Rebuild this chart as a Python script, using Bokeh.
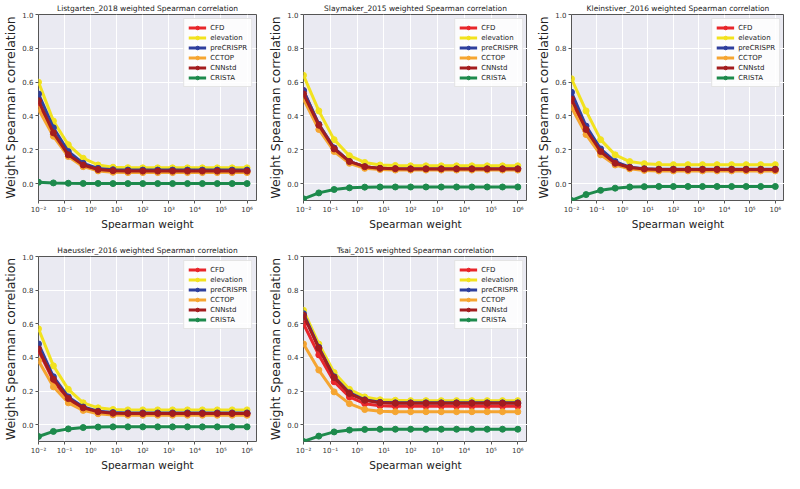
from bokeh.plotting import figure
from bokeh.layouts import column, row
from bokeh.models import Range1d, FixedTicker, CustomJSTickFormatter, PrintfTickFormatter
from bokeh.embed import file_html
from bokeh.resources import INLINE

# Spearman weights (x values, 15 points from 1e-2 to 1e6)
weights = [0.01, 0.0373, 0.139, 0.518, 1.93, 7.20, 26.8, 100, 373, 1389,
           5179, 19307, 71969, 268270, 1000000]
x_ticks = [0.01, 0.1, 1, 10, 100, 1000, 10000, 100000, 1000000]
x_tick_labels = ["10⁻²", "10⁻¹", "10⁰", "10¹", "10²", "10³", "10⁴", "10⁵", "10⁶"]
y_ticks = [0.0, 0.2, 0.4, 0.6, 0.8, 1.0]

methods = ["CFD", "elevation", "preCRISPR", "CCTOP", "CNNstd", "CRISTA"]
colors = ["#e8262b", "#f2e21e", "#2e3f9e", "#f5a531", "#a31c1e", "#1d8a4c"]

titles = ["Listgarten_2018 weighted Spearman correlation",
          "Slaymaker_2015 weighted Spearman correlation",
          "Kleinstiver_2016 weighted Spearman correlation",
          "Haeussler_2016 weighted Spearman correlation",
          "Tsai_2015 weighted Spearman correlation"]

listgarten_cfd = [0.47, 0.29, 0.17, 0.105, 0.08, 0.072, 0.07, 0.07, 0.07, 0.07, 0.07, 0.07, 0.07, 0.07, 0.07]
listgarten_elevation = [0.60, 0.37, 0.23, 0.15, 0.11, 0.097, 0.094, 0.093, 0.093, 0.093, 0.093, 0.093, 0.093, 0.093, 0.093]
listgarten_precrispr = [0.53, 0.33, 0.19, 0.12, 0.09, 0.082, 0.08, 0.08, 0.08, 0.08, 0.08, 0.08, 0.08, 0.08, 0.08]
listgarten_cctop = [0.44, 0.28, 0.16, 0.10, 0.075, 0.067, 0.065, 0.065, 0.065, 0.065, 0.065, 0.065, 0.065, 0.065, 0.065]
listgarten_cnnstd = [0.49, 0.30, 0.17, 0.11, 0.083, 0.076, 0.074, 0.074, 0.074, 0.074, 0.074, 0.074, 0.074, 0.074, 0.074]
listgarten_crista = [0.008, 0.004, 0.002, 0.001, 0.001, 0.0, 0.0, 0.0, 0.0, 0.0, 0.0, 0.0, 0.0, 0.0, 0.0]

slaymaker_cfd = [0.55, 0.35, 0.21, 0.13, 0.10, 0.09, 0.088, 0.087, 0.087, 0.087, 0.087, 0.087, 0.087, 0.087, 0.087]
slaymaker_elevation = [0.64, 0.43, 0.26, 0.165, 0.125, 0.11, 0.107, 0.105, 0.105, 0.105, 0.105, 0.105, 0.105, 0.105, 0.105]
slaymaker_precrispr = [0.55, 0.35, 0.21, 0.13, 0.10, 0.09, 0.088, 0.087, 0.087, 0.087, 0.087, 0.087, 0.087, 0.087, 0.087]
slaymaker_cctop = [0.50, 0.32, 0.19, 0.12, 0.09, 0.083, 0.08, 0.08, 0.08, 0.08, 0.08, 0.08, 0.08, 0.08, 0.08]
slaymaker_cnnstd = [0.53, 0.345, 0.205, 0.13, 0.10, 0.09, 0.088, 0.087, 0.087, 0.087, 0.087, 0.087, 0.087, 0.087, 0.087]
slaymaker_crista = [-0.09, -0.055, -0.035, -0.025, -0.021, -0.02, -0.02, -0.02, -0.02, -0.02, -0.02, -0.02, -0.02, -0.02, -0.02]

kleinstiver_cfd = [0.49, 0.31, 0.185, 0.12, 0.092, 0.083, 0.08, 0.08, 0.08, 0.08, 0.08, 0.08, 0.08, 0.08, 0.08]
kleinstiver_elevation = [0.62, 0.43, 0.26, 0.17, 0.13, 0.118, 0.113, 0.112, 0.112, 0.112, 0.112, 0.112, 0.112, 0.112, 0.112]
kleinstiver_precrispr = [0.54, 0.34, 0.205, 0.13, 0.097, 0.088, 0.085, 0.085, 0.085, 0.085, 0.085, 0.085, 0.085, 0.085, 0.085]
kleinstiver_cctop = [0.45, 0.29, 0.17, 0.11, 0.087, 0.078, 0.075, 0.075, 0.075, 0.075, 0.075, 0.075, 0.075, 0.075, 0.075]
kleinstiver_cnnstd = [0.50, 0.32, 0.19, 0.12, 0.095, 0.086, 0.083, 0.083, 0.083, 0.083, 0.083, 0.083, 0.083, 0.083, 0.083]
kleinstiver_crista = [-0.10, -0.065, -0.04, -0.027, -0.02, -0.018, -0.017, -0.017, -0.017, -0.017, -0.017, -0.017, -0.017, -0.017, -0.017]

haeussler_cfd = [0.44, 0.26, 0.15, 0.095, 0.075, 0.066, 0.065, 0.065, 0.065, 0.065, 0.065, 0.065, 0.065, 0.065, 0.065]
haeussler_elevation = [0.57, 0.35, 0.21, 0.13, 0.10, 0.09, 0.088, 0.088, 0.088, 0.088, 0.088, 0.088, 0.088, 0.088, 0.088]
haeussler_precrispr = [0.48, 0.285, 0.165, 0.105, 0.08, 0.072, 0.07, 0.07, 0.07, 0.07, 0.07, 0.07, 0.07, 0.07, 0.07]
haeussler_cctop = [0.38, 0.225, 0.13, 0.085, 0.065, 0.058, 0.056, 0.056, 0.056, 0.056, 0.056, 0.056, 0.056, 0.056, 0.056]
haeussler_cnnstd = [0.45, 0.27, 0.155, 0.10, 0.077, 0.068, 0.066, 0.066, 0.066, 0.066, 0.066, 0.066, 0.066, 0.066, 0.066]
haeussler_crista = [-0.07, -0.04, -0.025, -0.017, -0.014, -0.013, -0.013, -0.013, -0.013, -0.013, -0.013, -0.013, -0.013, -0.013, -0.013]

tsai_cfd = [0.60, 0.415, 0.255, 0.165, 0.125, 0.112, 0.11, 0.11, 0.11, 0.11, 0.11, 0.11, 0.11, 0.11, 0.11]
tsai_elevation = [0.68, 0.48, 0.31, 0.21, 0.165, 0.148, 0.145, 0.143, 0.143, 0.143, 0.143, 0.143, 0.143, 0.143, 0.143]
tsai_precrispr = [0.66, 0.46, 0.285, 0.19, 0.148, 0.133, 0.13, 0.13, 0.13, 0.13, 0.13, 0.13, 0.13, 0.13, 0.13]
tsai_cctop = [0.48, 0.325, 0.195, 0.125, 0.09, 0.08, 0.077, 0.077, 0.077, 0.077, 0.077, 0.077, 0.077, 0.077, 0.077]
tsai_cnnstd = [0.65, 0.455, 0.28, 0.185, 0.145, 0.13, 0.127, 0.127, 0.127, 0.127, 0.127, 0.127, 0.127, 0.127, 0.127]
tsai_crista = [-0.10, -0.068, -0.043, -0.032, -0.028, -0.027, -0.027, -0.027, -0.027, -0.027, -0.027, -0.027, -0.027, -0.027, -0.027]

panels = [
    [listgarten_cfd, listgarten_elevation, listgarten_precrispr, listgarten_cctop, listgarten_cnnstd, listgarten_crista],
    [slaymaker_cfd, slaymaker_elevation, slaymaker_precrispr, slaymaker_cctop, slaymaker_cnnstd, slaymaker_crista],
    [kleinstiver_cfd, kleinstiver_elevation, kleinstiver_precrispr, kleinstiver_cctop, kleinstiver_cnnstd, kleinstiver_crista],
    [haeussler_cfd, haeussler_elevation, haeussler_precrispr, haeussler_cctop, haeussler_cnnstd, haeussler_crista],
    [tsai_cfd, tsai_elevation, tsai_precrispr, tsai_cctop, tsai_cnnstd, tsai_crista],
]

FONT = "DejaVu Sans"
col_w = [265, 262, 257]
border_left = [28, 29, 44]
border_right = [9, 0, 0]
row_h = [232, 241]
border_top = [4, 24]


def make_panel(idx):
    r, c = divmod(idx, 3)
    p = figure(width=col_w[c], height=row_h[r], x_axis_type="log",
               x_range=Range1d(0.01, 2.3e6), y_range=Range1d(-0.1, 1.0),
               output_backend="svg", toolbar_location=None, title=titles[idx])
    p.min_border_left = border_left[c]
    p.min_border_right = border_right[c]
    p.min_border_top = border_top[r]
    p.min_border_bottom = 6
    p.background_fill_color = "#EAEAF2"
    p.border_fill_color = "white"
    p.outline_line_color = "#555555"
    p.outline_line_width = 1
    p.title.text_font = FONT
    p.title.text_font_size = "7.5px"
    p.title.text_font_style = "normal"
    p.title.text_color = "#222222"
    p.title.align = "center"
    p.title.standoff = 3

    p.xaxis.ticker = FixedTicker(ticks=x_ticks)
    p.xaxis.formatter = CustomJSTickFormatter(
        args=dict(xt=x_ticks, xl=x_tick_labels),
        code="""
        for (let i = 0; i < xt.length; i++) {
            if (Math.abs(Math.log10(xt[i]) - Math.log10(tick)) < 1e-6) return xl[i];
        }
        return '';
        """)
    p.yaxis.ticker = FixedTicker(ticks=y_ticks)
    p.yaxis.formatter = PrintfTickFormatter(format="%.1f")
    p.xaxis.axis_label = "Spearman weight"
    p.yaxis.axis_label = "Weight Spearman correlation"
    p.xaxis.axis_label_text_font_size = "10.5px"
    p.yaxis.axis_label_text_font_size = "12.5px"
    for ax in (p.xaxis, p.yaxis):
        ax.axis_label_text_font = FONT
        ax.axis_label_text_font_style = "normal"
        ax.axis_label_text_color = "#222222"
        ax.axis_label_standoff = 1
        ax.major_label_text_font = FONT
        ax.major_label_text_font_size = "7px"
        ax.major_label_text_color = "#333333"
        ax.major_label_standoff = 2
        ax.axis_line_color = None
        ax.major_tick_line_color = "#555555"
        ax.major_tick_out = 3
        ax.major_tick_in = 0
        ax.minor_tick_line_color = None
    p.xgrid.grid_line_color = "white"
    p.ygrid.grid_line_color = "white"
    p.xgrid.grid_line_width = 1
    p.ygrid.grid_line_width = 1

    for m, col, ys in zip(methods, colors, panels[idx]):
        p.line(weights, ys, line_color=col, line_width=3, legend_label=m)
        p.scatter(weights, ys, marker="circle", size=6, fill_color=col,
                  line_color=col, legend_label=m)

    lg = p.legend[0]
    lg.location = "top_right"
    lg.label_text_font = FONT
    lg.label_text_font_size = "7px"
    lg.label_text_color = "#222222"
    lg.glyph_height = 9
    lg.glyph_width = 18
    lg.label_height = 9
    lg.label_standoff = 4
    lg.spacing = 1
    lg.padding = 4
    lg.margin = 4
    lg.background_fill_color = "white"
    lg.background_fill_alpha = 0.85
    lg.border_line_color = "#cccccc"
    return p


figs = [make_panel(i) for i in range(5)]
layout = column(row(figs[0], figs[1], figs[2]), row(figs[3], figs[4]))

open("out.html", "w").write(file_html(layout, INLINE))
